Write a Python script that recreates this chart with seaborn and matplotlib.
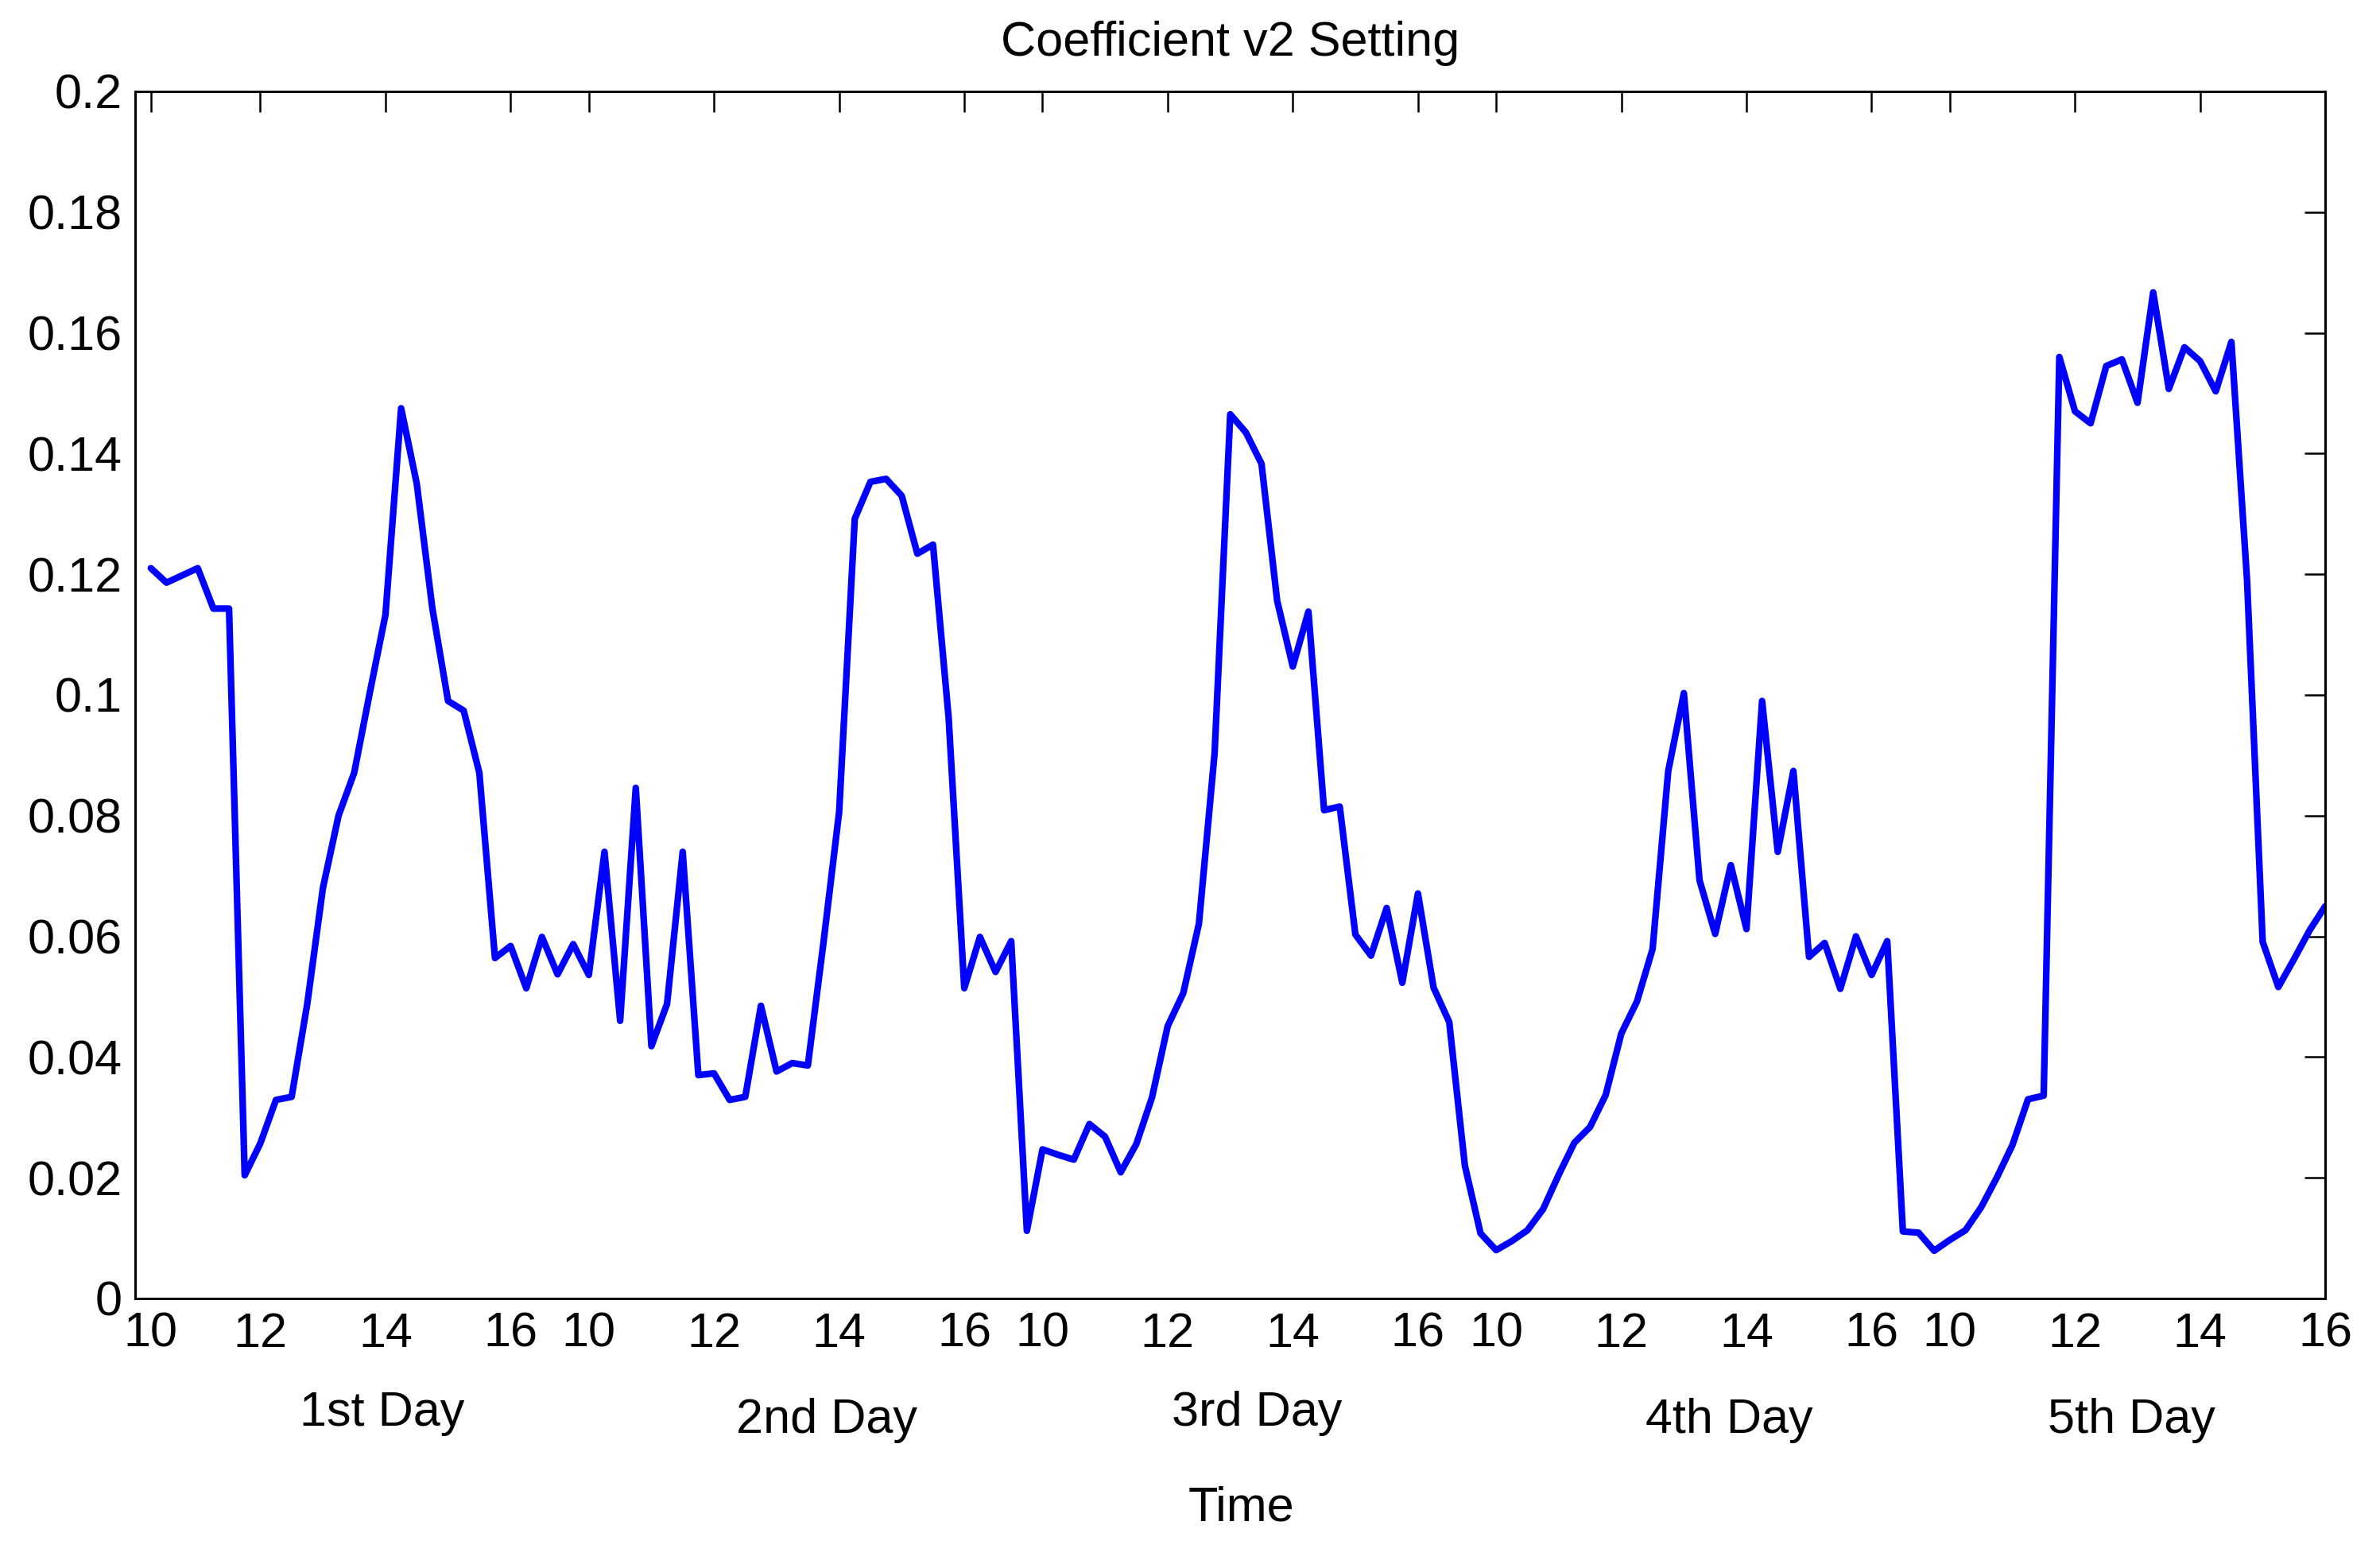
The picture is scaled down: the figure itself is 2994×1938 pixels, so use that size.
import matplotlib
matplotlib.use("Agg")
import matplotlib.pyplot as plt
from matplotlib.ticker import FuncFormatter
import seaborn as sns
import pandas as pd

# coefficient v2, 15-min samples, split by day
day1 = [0.1210, 0.1186, 0.1198, 0.1210, 0.1143, 0.1143, 0.0204, 0.0257, 0.0329, 0.0334,
        0.0488, 0.0680, 0.0800, 0.0871, 0.1004, 0.1133, 0.1475, 0.1350, 0.1143, 0.0990,
        0.0974, 0.0871, 0.0564, 0.0584, 0.0514, 0.0599, 0.0537, 0.0587]
day2 = [0.0536, 0.0740, 0.0460, 0.0846, 0.0418, 0.0488, 0.0740, 0.0370, 0.0373, 0.0329,
        0.0334, 0.0485, 0.0376, 0.0390, 0.0386, 0.0590, 0.0806, 0.1292, 0.1353, 0.1358,
        0.1330, 0.1234, 0.1249, 0.0962, 0.0514, 0.0599, 0.0541, 0.0592, 0.0112]
day3 = [0.0247, 0.0238, 0.0230, 0.0289, 0.0268, 0.0209, 0.0256, 0.0333, 0.0451, 0.0506,
        0.0621, 0.0903, 0.1465, 0.1435, 0.1383, 0.1156, 0.1047, 0.1138, 0.0809, 0.0815,
        0.0603, 0.0568, 0.0647, 0.0523, 0.0671, 0.0515, 0.0458, 0.0220, 0.0108]
day4 = [0.0080, 0.0095, 0.0113, 0.0148, 0.0205, 0.0258, 0.0284, 0.0337, 0.0439, 0.0492,
        0.0579, 0.0874, 0.1003, 0.0693, 0.0604, 0.0718, 0.0612, 0.0990, 0.0740, 0.0874,
        0.0566, 0.0589, 0.0513, 0.0600, 0.0536, 0.0592, 0.0111, 0.0109, 0.0079]
day5 = [0.0097, 0.0113, 0.0151, 0.0200, 0.0254, 0.0330, 0.0336, 0.1560, 0.1470, 0.1450,
        0.1545, 0.1556, 0.1484, 0.1667, 0.1507, 0.1576, 0.1553, 0.1503, 0.1585, 0.1190,
        0.0591, 0.0516, 0.0562, 0.0610, 0.0650]

tick_pos = [1, 8, 16, 24, 29, 37, 45, 53, 58, 66, 74, 82, 87, 95, 103, 111, 116, 124, 132, 140]
tick_lab = ["10", "12", "14", "16"] * 5
day_names = ["1st Day", "2nd Day", "3rd Day", "4th Day", "5th Day"]
day_name_x = [15.8, 44.2, 71.7, 101.9, 127.6]
day_name_y = [-0.095, -0.101, -0.095, -0.101, -0.101]

vals = day1 + day2 + day3 + day4 + day5
df = pd.DataFrame({"t": range(1, len(vals) + 1), "v2": vals})

sns.set_style("white")
plt.rcParams["font.family"] = ["Liberation Sans", "DejaVu Sans"]
plt.rcParams["text.color"] = "black"
plt.rcParams["axes.labelcolor"] = "black"

fig = plt.figure(figsize=(14.97, 9.69), dpi=200)
ax = fig.add_axes([0.0568, 0.1574, 0.9202, 0.7833])

sns.lineplot(data=df, x="t", y="v2", ax=ax, color=(0, 0, 1), linewidth=3.0)

ax.set_xlim(0, 140)
ax.set_ylim(0, 0.2)
ax.set_xticks(tick_pos)
ax.set_xticklabels(tick_lab)
ax.set_yticks([i * 0.02 for i in range(11)])
ax.yaxis.set_major_formatter(FuncFormatter(lambda v, p: "%g" % round(v, 4)))
ax.tick_params(direction="in", length=9.5, width=0.9, top=True, right=True,
               labelsize=22, colors="black", labelcolor="black", pad=6)
for s in ax.spines.values():
    s.set_color("black")
    s.set_linewidth(1.1)

ax.set_xlabel("")
ax.set_ylabel("")
ax.set_title("Coefficient v2 Setting", fontsize=22, pad=16, color="black")

for name, x, y in zip(day_names, day_name_x, day_name_y):
    ax.text(x, y, name, transform=ax.get_xaxis_transform(), ha="center", va="center",
            fontsize=22, color="black")
ax.text(0.505, -0.174, "Time", transform=ax.transAxes, ha="center", va="center",
        fontsize=22, color="black")

fig.savefig("out.png", dpi=200)
